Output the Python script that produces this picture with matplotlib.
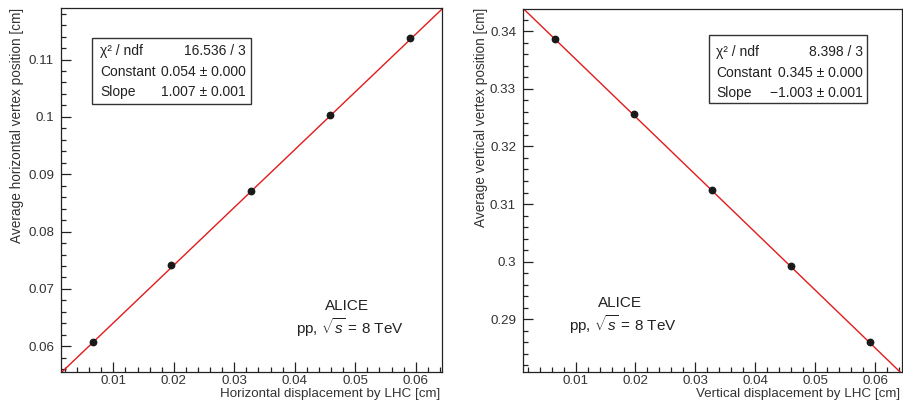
import numpy as np
import matplotlib
matplotlib.use("Agg")
import matplotlib.pyplot as plt
from matplotlib.patches import Rectangle
from matplotlib.ticker import MultipleLocator, FormatStrFormatter

plt.rcParams["font.family"] = ["Liberation Sans", "DejaVu Sans"]
plt.rcParams["mathtext.fontset"] = "custom"
plt.rcParams["mathtext.rm"] = "Liberation Sans"
plt.rcParams["mathtext.it"] = "Liberation Sans:italic"

# Horizontal scan
h_disp = [0.0066, 0.0196, 0.0327, 0.0458, 0.0591]
h_vertex = [0.0608, 0.0741, 0.0870, 0.1003, 0.1137]
h_const, h_slope = 0.054, 1.007
h_stats = [("χ² / ndf", "16.536 / 3"),
           ("Constant", "0.054 ± 0.000"),
           ("Slope", "1.007 ± 0.001")]

# Vertical scan
v_disp = [0.0065, 0.0197, 0.0328, 0.0460, 0.0592]
v_vertex = [0.3386, 0.3257, 0.3125, 0.2993, 0.2861]
v_const, v_slope = 0.3452, -1.003
v_stats = [("χ² / ndf", "8.398 / 3"),
           ("Constant", "0.345 ± 0.000"),
           ("Slope", "\u22121.003 ± 0.001")]

W, H = 904, 405
fig = plt.figure(figsize=(W / 100, H / 100), dpi=100)


def fx(px):
    return px / W


def fy(py):
    return 1 - py / H


def graph_range(vals):
    lo, hi = min(vals), max(vals)
    d = 0.1 * (hi - lo)
    return lo - d, hi + d


def make_panel(rect, x, y, const, slope, xlabel, ylabel, ylab_x):
    ax = fig.add_axes(rect)
    xlim = graph_range(x)
    ylim = graph_range(y)
    ax.set_xlim(*xlim)
    ax.set_ylim(*ylim)
    xs = np.linspace(xlim[0], xlim[1], 200)
    ax.plot(xs, const + slope * xs, color="#e31a1c", lw=1.0, zorder=2)
    ax.plot(x, y, "o", color="#1a1a1a", ms=4.6, zorder=3)

    ax.xaxis.set_major_locator(MultipleLocator(0.01))
    ax.xaxis.set_minor_locator(MultipleLocator(0.002))
    ax.yaxis.set_major_locator(MultipleLocator(0.01))
    ax.yaxis.set_minor_locator(MultipleLocator(0.002))
    ax.xaxis.set_major_formatter(FormatStrFormatter("%g"))
    ax.yaxis.set_major_formatter(FormatStrFormatter("%g"))
    ax.tick_params(which="both", direction="in", top=False, right=False,
                   color="#222222", width=0.9, labelsize=9.6,
                   labelcolor="#333333")
    ax.tick_params(which="major", length=7.5)
    ax.tick_params(which="minor", length=3.8)
    ax.tick_params(axis="x", pad=2.5)
    ax.tick_params(axis="y", pad=5)
    for s in ax.spines.values():
        s.set_linewidth(0.9)
        s.set_color("#222222")

    x1 = rect[0] + rect[2]
    fig.text(x1 - 0.002, fy(397.5), xlabel, ha="right", va="baseline",
             fontsize=9.6, color="#333333")
    fig.text(fx(ylab_x), fy(8), ylabel, ha="center", va="top",
             rotation=90, fontsize=9.8, color="#333333")
    return ax


def stats_box(left, top, right, bottom, rows, label_x, value_x, row_y):
    fig.patches.append(Rectangle((fx(left), fy(bottom)),
                                 fx(right) - fx(left), fy(top) - fy(bottom),
                                 transform=fig.transFigure, fill=True,
                                 facecolor="white", edgecolor="#333333",
                                 lw=1.0, zorder=5))
    for (lab, val), ry in zip(rows, row_y):
        fig.text(fx(label_x), fy(ry), lab, ha="left", va="center",
                 fontsize=10, color="#222222", zorder=6)
        fig.text(fx(value_x), fy(ry), val, ha="right", va="center",
                 fontsize=10, color="#222222", zorder=6)


ax1 = make_panel([fx(61), fy(372), fx(442) - fx(61), fy(8) - fy(372)],
                 h_disp, h_vertex, h_const, h_slope,
                 "Horizontal displacement by LHC [cm]",
                 "Average horizontal vertex position [cm]", 17)
ax2 = make_panel([fx(523), fy(372), fx(902) - fx(523), fy(9) - fy(372)],
                 v_disp, v_vertex, v_const, v_slope,
                 "Vertical displacement by LHC [cm]",
                 "Average vertical vertex position [cm]", 481)

stats_box(92, 38, 251, 104, h_stats, 100.5, 246, [51, 72, 92])
stats_box(709, 35, 867, 103, v_stats, 716.5, 863, [52, 73, 93])

for cx, cy in [(347, 306), (620, 303)]:
    fig.text(fx(cx), fy(cy), "ALICE", ha="center", va="center",
             fontsize=11, color="#222222")
    fig.text(fx(cx + 3), fy(cy + 22), r"pp, $\sqrt{s}$ = 8 TeV",
             ha="center", va="center", fontsize=11, color="#222222")

fig.savefig("out.png", dpi=100, facecolor="white")
